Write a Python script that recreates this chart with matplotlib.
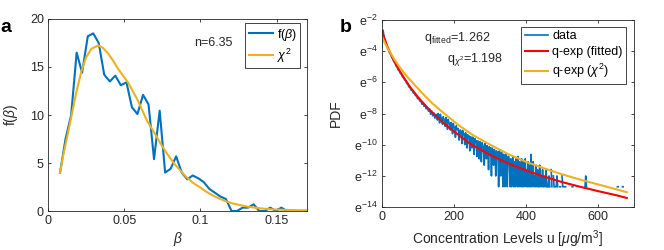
import numpy as np
import matplotlib
matplotlib.use('Agg')
import matplotlib.pyplot as plt
from matplotlib.ticker import NullLocator

plt.rcParams['font.family'] = ['Liberation Sans', 'DejaVu Sans']
plt.rcParams['mathtext.fontset'] = 'custom'
plt.rcParams['mathtext.rm'] = 'Liberation Sans'
plt.rcParams['mathtext.it'] = 'Liberation Sans:italic'
plt.rcParams['mathtext.bf'] = 'Liberation Sans:bold'

BLUE = '#0072BD'
ORANGE = '#EDB120'
RED = '#FF0000'
GRAY = '#262626'

# ---------------- panel a data ----------------
beta_bins = [0.0079, 0.0115, 0.0152, 0.0188, 0.0224, 0.0261, 0.0297, 0.0333, 0.0369, 0.0406,
             0.0442, 0.0478, 0.0515, 0.0551, 0.0587, 0.0624, 0.0660, 0.0696, 0.0733, 0.0769,
             0.0805, 0.0841, 0.0878, 0.0914, 0.0950, 0.0987, 0.1023, 0.1059, 0.1096, 0.1132,
             0.1168, 0.1205, 0.1241, 0.1277, 0.1314, 0.1350, 0.1386, 0.1423, 0.1459, 0.1495,
             0.1532, 0.1568, 0.1604, 0.1640, 0.1677, 0.1700]
f_beta = [4.0, 7.5, 10.0, 16.5, 14.4, 18.2, 18.5, 17.5, 14.2, 13.5,
          14.1, 13.1, 13.4, 10.8, 10.1, 12.1, 11.1, 5.4, 10.45, 4.0,
          4.4, 5.7, 4.0, 3.3, 3.7, 3.4, 3.0, 2.3, 1.9, 1.5,
          1.25, 0.0, 0.0, 0.35, 0.35, 0.7, 0.0, 0.0, 0.35, 0.0,
          0.35, 0.0, 0.0, 0.0, 0.0, 0.0]

chi_beta = [0.0079, 0.0100, 0.0120, 0.0150, 0.0185, 0.0220, 0.0250, 0.0285, 0.0330, 0.0360,
            0.0395, 0.0430, 0.0460, 0.0525, 0.0590, 0.0650, 0.0700, 0.0740, 0.0780, 0.0825,
            0.0870, 0.0910, 0.0955, 0.1000, 0.1045, 0.1090, 0.1130, 0.1175, 0.1220, 0.1265,
            0.1310, 0.1350, 0.1400, 0.1440, 0.1500, 0.1600, 0.1700]
chi_f = [4.0, 5.8, 7.3, 9.6, 12.3, 14.6, 16.0, 16.9, 17.25, 17.0,
         16.4, 15.6, 14.8, 13.4, 11.5, 9.4, 8.1, 7.0, 6.0, 5.0,
         4.2, 3.5, 2.9, 2.45, 1.95, 1.55, 1.25, 0.97, 0.76, 0.6,
         0.46, 0.36, 0.27, 0.21, 0.15, 0.1, 0.07]

a_xticks = [0, 0.05, 0.1, 0.15]
a_xticklabels = ['0', '0.05', '0.1', '0.15']
a_yticks = [0, 5, 10, 15, 20]

# ---------------- panel b data ----------------
# ln(PDF) of the data, low concentrations (every 3 units from 0)
b_head_step = 3
b_head_ln = [-3.8, -2.65, -3.15, -3.4, -3.55, -3.8, -3.9, -4.12, -4.2, -4.4,
             -4.5, -4.68, -4.75, -4.95, -5.0, -5.2, -5.25, -5.42, -5.48, -5.65,
             -5.7, -5.85, -5.9, -6.08, -6.12, -6.3, -6.33, -6.5, -6.5, -6.68,
             -6.7, -6.85, -6.88, -7.05, -7.0, -7.2, -7.2, -7.4, -7.3, -7.55,
             -7.45, -7.7, -7.6, -7.85, -7.7, -8.05, -7.85, -8.15, -7.95, -8.3,
             -8.05]
# counts per bin (u = 152, 154, ..., 480); ln(PDF) of one count is the floor level
b_single_count_ln = -12.7
b_mid_start, b_mid_step = 152, 2
b_mid_counts = [98, 72, 110, 88, 60, 105, 84, 80, 55, 90,
                76, 70, 48, 85, 66, 40, 75, 60, 58, 38,
                62, 50, 30, 58, 46, 44, 24, 50, 42, 39,
                42, 20, 36, 38, 31, 16, 37, 30, 29, 15,
                32, 27, 12, 28, 24, 26, 10, 25, 22, 12,
                24, 20, 8, 22, 18, 19, 7, 19, 18, 6,
                18, 15, 5, 17, 14, 13, 4, 16, 12, 6,
                14, 11, 3, 13, 10, 12, 2, 12, 10, 4,
                11, 9, 2, 10, 8, 9, 1, 10, 7, 2,
                9, 7, 1, 8, 6, 1, 8, 6, 1, 7,
                7, 5, 1, 6, 1, 5, 7, 1, 5, 1,
                6, 4, 1, 7, 1, 5, 4, 1, 6, 1,
                5, 1, 4, 6, 1, 3, 1, 5, 1, 4,
                1, 8, 1, 3, 5, 1, 2, 1, 4, 1,
                3, 1, 1, 4, 1, 2, 1, 3, 1, 1,
                2, 1, 3, 1, 0, 1, 2, 1, 0, 3,
                1, 0, 2, 1, 0]
# sparse high-concentration bins (non-zero only)
b_tail_u = [482, 484, 486, 488, 494, 496, 500, 502, 504, 508, 510, 528, 530,
            564, 566, 568, 654, 656, 668, 670]
b_tail_counts = [1, 1, 2, 1, 1, 1, 2, 1, 1, 1, 1, 1, 1,
                 1, 2, 1, 1, 1, 1, 1]

fit_u = [0, 5, 10, 15, 21, 30, 40, 50, 60, 78, 100, 125, 150, 175, 200, 245,
         300, 350, 400, 450, 500, 550, 600, 650, 680]
fit_ln = [-2.7, -3.05, -3.38, -3.7, -4.02, -4.45, -4.9, -5.3, -5.67, -6.3, -6.95, -7.6,
          -8.17, -8.7, -9.15, -9.95, -10.65, -11.2, -11.65, -12.05, -12.4, -12.7,
          -12.98, -13.24, -13.42]
chi2_u = [0, 5, 10, 15, 25, 35, 50, 65, 88, 110, 140, 170, 210, 250, 300, 350, 400,
          450, 500, 550, 600, 650, 680]
chi2_ln = [-3.07, -3.32, -3.56, -3.78, -4.18, -4.55, -5.05, -5.5, -6.1, -6.65, -7.35,
           -7.95, -8.7, -9.35, -10.0, -10.6, -11.1, -11.52, -11.9, -12.24, -12.55,
           -12.86, -13.05]

b_xticks = [0, 200, 400, 600]
b_yexp = [-14, -12, -10, -8, -6, -4, -2]

# ---------------- figure ----------------
fig = plt.figure(figsize=(6.64, 2.5), dpi=100)
axa = fig.add_axes([0.0723, 0.156, 0.39, 0.768])
axb = fig.add_axes([0.5753, 0.172, 0.3795, 0.748])


def style(ax):
    for s in ax.spines.values():
        s.set_color(GRAY)
        s.set_linewidth(0.6)
    ax.tick_params(direction='in', which='both', top=True, right=True,
                   length=2.5, width=0.6, colors=GRAY, labelsize=9, pad=3)


# panel a
axa.plot(beta_bins, f_beta, color=BLUE, lw=1.5, label='f($\\beta$)')
axa.plot(chi_beta, chi_f, color=ORANGE, lw=1.5, label='$\\chi^2$')
axa.set_xlim(0, 0.17)
axa.set_ylim(0, 20)
axa.set_xticks(a_xticks)
axa.set_xticklabels(a_xticklabels)
axa.set_yticks(a_yticks)
style(axa)
axa.set_xlabel('$\\beta$', fontsize=10, color=GRAY)
axa.xaxis.set_label_coords(0.5, -0.1)
axa.set_ylabel('f($\\beta$)', fontsize=10, color=GRAY)
axa.yaxis.set_label_coords(-0.108, 0.5)
axa.text(0.637, 0.875, 'n=6.35', transform=axa.transAxes, ha='center', va='center',
         fontsize=9, color=GRAY)
leg = axa.legend(loc='upper right', bbox_to_anchor=(0.975, 0.98), borderaxespad=0,
                 fontsize=9, fancybox=False, edgecolor=GRAY, framealpha=1,
                 handlelength=1.9, handletextpad=0.3, borderpad=0.3, labelspacing=0.3)
leg.get_frame().set_linewidth(0.6)

# panel b
axb.set_yscale('log', base=np.e)
u_head = np.arange(len(b_head_ln)) * b_head_step
u_mid = b_mid_start + np.arange(len(b_mid_counts)) * b_mid_step
mid_counts = np.array(b_mid_counts, dtype=float)
mid_ln = np.where(mid_counts > 0, np.log(np.where(mid_counts > 0, mid_counts, 1)) + b_single_count_ln, np.nan)
tail_u = np.array(b_tail_u, dtype=float)
tail_ln = np.log(np.array(b_tail_counts, dtype=float)) + b_single_count_ln
# break the line where consecutive non-empty bins are not adjacent
tu, tl = [], []
prev = None
for uu, ll in zip(tail_u, tail_ln):
    if prev is not None and uu - prev > b_mid_step:
        tu.append(np.nan)
        tl.append(np.nan)
    tu.append(uu)
    tl.append(ll)
    prev = uu
data_u = np.concatenate([u_head, u_mid, [np.nan], tu])
data_ln = np.concatenate([b_head_ln, mid_ln, [np.nan], tl])

axb.plot(data_u, np.exp(data_ln), color=BLUE, lw=1.2, label='data')
axb.plot(fit_u, np.exp(fit_ln), color=RED, lw=1.5, label='q-exp (fitted)')
axb.plot(chi2_u, np.exp(chi2_ln), color=ORANGE, lw=1.5, label='q-exp ($\\chi^2$)')
axb.set_xlim(0, 700)
axb.set_ylim(np.exp(-14), np.exp(-2))
axb.set_xticks(b_xticks)
axb.set_yticks(np.exp(b_yexp))
axb.set_yticklabels(['e$^{%d}$' % e for e in b_yexp])
axb.yaxis.set_minor_locator(NullLocator())
style(axb)
axb.set_xlabel('Concentration Levels u [$\\mu$g/m$^3$]', fontsize=10, color=GRAY)
axb.xaxis.set_label_coords(0.5, -0.115)
axb.set_ylabel('PDF', fontsize=10, color=GRAY)
axb.yaxis.set_label_coords(-0.155, 0.5)
axb.text(0.297, 0.905, 'q$_{\\rm fitted}$=1.262', transform=axb.transAxes,
         ha='center', va='center', fontsize=9, color=GRAY)
axb.text(0.371, 0.79, 'q$_{\\chi^2}$=1.198', transform=axb.transAxes,
         ha='center', va='center', fontsize=9, color=GRAY)
legb = axb.legend(loc='upper right', bbox_to_anchor=(0.969, 0.964), borderaxespad=0,
                  fontsize=9, fancybox=False, edgecolor=GRAY, framealpha=1,
                  handlelength=1.9, handletextpad=0.3, borderpad=0.3, labelspacing=0.3)
legb.get_frame().set_linewidth(0.6)

fig.text(0.0, 0.873, 'a', fontsize=14, fontweight='bold', ha='left', va='baseline')
fig.text(0.511, 0.871, 'b', fontsize=14, fontweight='bold', ha='left', va='baseline')

fig.savefig('out.png', dpi=100)
